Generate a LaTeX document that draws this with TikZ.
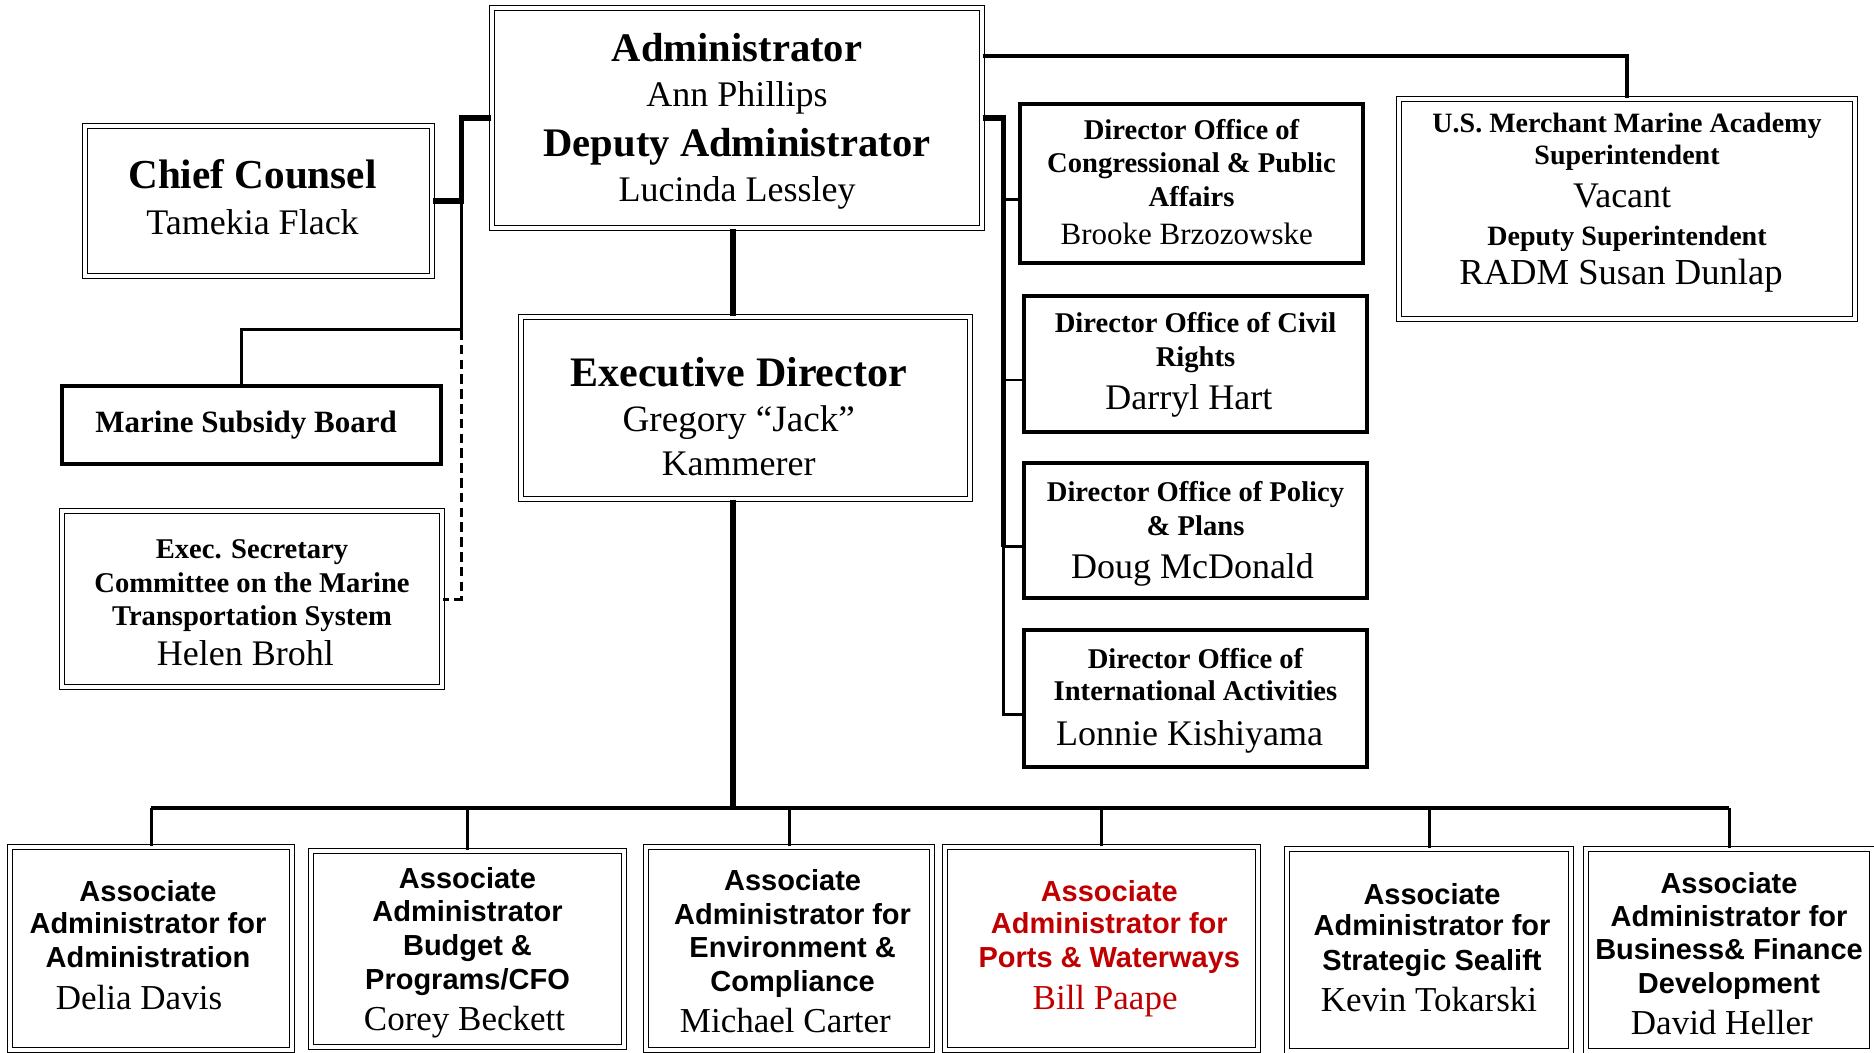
\documentclass[tikz,border=0pt]{standalone}
\usepackage{fontspec}
\setmainfont{Liberation Serif}
\newfontfamily\arialf{Liberation Sans}
\usetikzlibrary{fit,calc}
\definecolor{redt}{RGB}{192,0,0}
\newcounter{tln}
\newcommand\tl[4]{\stepcounter{tln}\node[anchor=base,inner sep=0,#1] (txt\arabic{tln}) at (#2 |- 0,#3) {#4};}
\tikzset{
 dbox/.style={draw, double, line width=0.6pt, double distance=2pt, inner sep=0},
 tbox/.style={draw, line width=2.4pt, inner sep=0},
 thk/.style={line width=2.6pt},
 med/.style={line width=1.9pt},
 thn/.style={line width=1.5pt},
 dsh/.style={line width=1.5pt, dash pattern=on 4.8pt off 2.6pt},
 ttl/.style={font=\fontsize{20.3}{24}\selectfont\bfseries},
 nm/.style={font=\fontsize{18}{22}\selectfont},
 sttl/.style={font=\fontsize{14.3}{17}\selectfont\bfseries},
 attl/.style={font=\arialf\fontsize{14.5}{17}\selectfont\bfseries},
 bnm/.style={font=\fontsize{17.5}{21}\selectfont},
}
\begin{document}
\begin{tikzpicture}[x=0.5pt,y=-0.5pt]
\fill[white] (0,0) rectangle (1874,1053);
\useasboundingbox (0,0) rectangle (1874,1053);
% boxes
\node[dbox, fit={(492,8)(982,228)}] (adm) {};
\node[dbox, fit={(85,126)(432,276)}] (cc) {};
\node[tbox, fit={(62,386)(441,464)}] (msb) {};
\node[dbox, fit={(62,511)(442,687)}] (es) {};
\node[dbox, fit={(521,317)(970,499)}] (ed) {};
\node[tbox, fit={(1020,104)(1363,263)}] (d1) {};
\node[tbox, fit={(1024,296)(1367,432)}] (d2) {};
\node[tbox, fit={(1024,463)(1367,598)}] (d3) {};
\node[tbox, fit={(1024,630)(1367,767)}] (d4) {};
\node[dbox, fit={(1399,99)(1855,319)}] (us) {};
\node[dbox, fit={(10,847)(292,1050)}] (b1) {};
\node[dbox, fit={(311,851)(624,1047)}] (b2) {};
\node[dbox, fit={(646,847)(932,1050)}] (b3) {};
\node[dbox, fit={(945,847)(1258,1050)}] (b4) {};
\node[dbox, fit={(1287,849)(1571,1051)}] (b5) {};
\node[dbox, fit={(1586,849)(1872,1051)}] (b6) {};
% left connectors
\draw[thk] (adm.west) -- ++(-30,0) coordinate (lj) |- (cc.east);
\draw[thn] (lj |- cc.east) -- (lj |- 0,330) coordinate (lk) -| ([xshift=-5pt]msb.north);
\draw[dsh] (lk) |- (es.east);
% center
\draw[thk] (adm.south -| 733,0) -- (ed.north -| 733,0);
\coordinate (bus) at (733,808);
\draw[thk] (ed.south -| bus) -- (bus);
\draw[med] (b1.north |- bus) -- (b6.north |- bus);
\foreach \b in {b1,b2,b3,b4,b5,b6}{\draw[thn] (\b.north) -- (\b.north |- bus);}
% right
\draw[line width=3pt] (adm.east) -- ++(21,0) coordinate (rv);
\foreach \d in {d1,d2,d3,d4}{\coordinate (br\d) at ([yshift=-8pt]\d.west);}
\draw[line width=2.5pt] ([yshift=1.5pt]rv) -- (rv |- brd3);
\draw[line width=1.4pt] (rv |- brd3) |- (brd4);
\foreach \d in {d1,d2,d3}{\draw[line width=1.4pt] (rv |- br\d) -- (br\d);}
\draw[med] ([yshift=31pt]adm.east) -| (us.north);
% texts
\tl{ttl}{adm}{62}{Administrator}
\tl{nm}{adm}{107}{Ann Phillips}
\tl{ttl}{adm}{157}{Deputy Administrator}
\tl{nm}{adm}{202}{Lucinda Lessley}
\tl{ttl,font=\fontsize{20.6}{24}\selectfont\bfseries,xshift=-3pt}{cc}{189}{Chief Counsel}
\tl{nm,xshift=-3pt}{cc}{235}{Tamekia Flack}
\tl{font=\fontsize{15.5}{18}\selectfont\bfseries,xshift=-2.7pt}{msb}{433}{Marine Subsidy Board}
\tl{sttl}{es}{558}{Exec. Secretary}
\tl{sttl}{es}{592}{Committee on the Marine}
\tl{sttl}{es}{625}{Transportation System}
\tl{nm,xshift=-3.3pt}{es}{665}{Helen Brohl}
\tl{ttl,font=\fontsize{21}{24}\selectfont\bfseries,xshift=-3.4pt}{ed}{387}{Executive Director}
\tl{nm,font=\fontsize{18.6}{22}\selectfont,xshift=-3.4pt}{ed}{432}{Gregory “Jack”}
\tl{nm,xshift=-3.4pt}{ed}{475}{Kammerer}
\tl{sttl}{d1}{140}{Director Office of}
\tl{sttl}{d1}{173}{Congressional \& Public}
\tl{sttl}{d1}{207}{Affairs}
\tl{font=\fontsize{15.5}{18}\selectfont,xshift=-2.4pt}{d1}{245}{Brooke Brzozowske}
\tl{sttl}{d2}{333}{Director Office of Civil}
\tl{sttl}{d2}{367}{Rights}
\tl{nm,xshift=-3.3pt}{d2}{410}{Darryl Hart}
\tl{sttl}{d3}{502}{Director Office of Policy}
\tl{sttl}{d3}{535}{\& Plans}
\tl{nm,xshift=-1.5pt}{d3}{578}{Doug McDonald}
\tl{sttl}{d4}{668}{Director Office of}
\tl{sttl}{d4}{700}{International Activities}
\tl{nm,xshift=-3pt}{d4}{745}{Lonnie Kishiyama}
\tl{sttl,font=\fontsize{14}{17}\selectfont\bfseries}{us}{133}{U.S. Merchant Marine Academy}
\tl{sttl,font=\fontsize{14}{17}\selectfont\bfseries}{us}{165}{Superintendent}
\tl{nm,xshift=-2.4pt}{us}{208}{Vacant}
\tl{sttl,font=\fontsize{14}{17}\selectfont\bfseries}{us}{246}{Deputy Superintendent}
\tl{nm,font=\fontsize{18.3}{22}\selectfont,xshift=-3pt}{us}{285}{RADM Susan Dunlap}
% bottom
\tl{attl,xshift=-1.5pt}{b1}{901}{Associate}
\tl{attl,xshift=-1.5pt}{b1}{933}{Administrator for}
\tl{attl,xshift=-1.5pt}{b1}{967}{Administration}
\tl{bnm,xshift=-6pt}{b1}{1009}{Delia Davis}
\tl{attl}{b2}{888}{Associate}
\tl{attl}{b2}{921}{Administrator}
\tl{attl}{b2}{955}{Budget \&}
\tl{attl}{b2}{989}{Programs/CFO}
\tl{bnm,xshift=-1.5pt}{b2}{1030}{Corey Beckett}
\tl{attl,xshift=1.8pt}{b3}{890}{Associate}
\tl{attl,xshift=1.8pt}{b3}{924}{Administrator for}
\tl{attl,xshift=1.8pt}{b3}{957}{Environment \&}
\tl{attl,xshift=1.8pt}{b3}{991}{Compliance}
\tl{bnm,xshift=-1.8pt}{b3}{1032}{Michael Carter}
\tl{attl,text=redt,xshift=3.9pt}{b4}{901}{Associate}
\tl{attl,text=redt,xshift=3.9pt}{b4}{933}{Administrator for}
\tl{attl,text=redt,xshift=3.9pt}{b4}{967}{Ports \& Waterways}
\tl{bnm,text=redt,xshift=1.8pt}{b4}{1009}{Bill Paape}
\tl{attl,xshift=1.5pt}{b5}{904}{Associate}
\tl{attl,xshift=1.5pt}{b5}{935}{Administrator for}
\tl{attl,xshift=1.5pt}{b5}{970}{Strategic Sealift}
\tl{bnm}{b5}{1011}{Kevin Tokarski}
\tl{attl}{b6}{893}{Associate}
\tl{attl}{b6}{926}{Administrator for}
\tl{attl}{b6}{959}{Business\& Finance}
\tl{attl}{b6}{993}{Development}
\tl{bnm,xshift=-3.6pt}{b6}{1034}{David Heller}
\end{tikzpicture}
\end{document}
